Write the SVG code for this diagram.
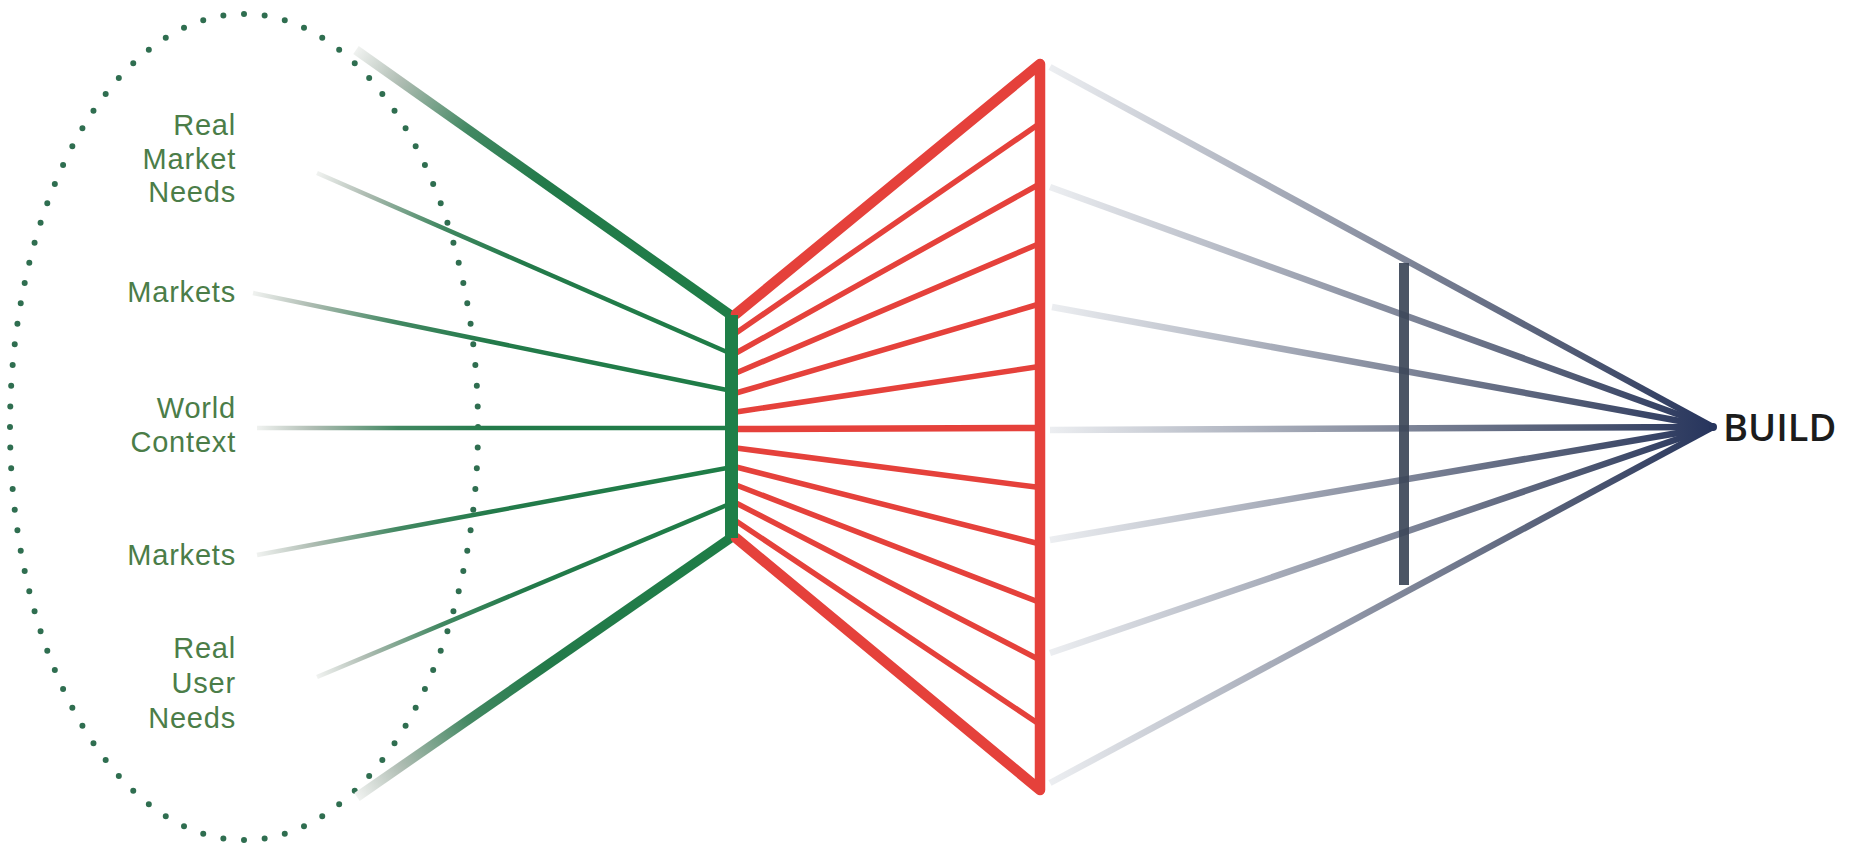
<svg xmlns="http://www.w3.org/2000/svg" xmlns:xlink="http://www.w3.org/1999/xlink" width="1859" height="846" viewBox="0 0 1859 846">
  <style>
    .lbl { font-family: "Liberation Sans", Arial, sans-serif; font-size: 29px; letter-spacing: 0.8px; fill: #4b7d48; text-anchor: end; }
    .build { font-family: "Open Sans", "Liberation Sans", sans-serif; font-size: 38px; font-weight: 600; fill: #1c1c1c; }
    .red { stroke: #e5413b; fill: none; stroke-linecap: round; }
    .gthin { fill: none; stroke-width: 4.5; stroke-linecap: butt; }
    .gthick { fill: none; stroke-width: 9.5; stroke-linecap: butt; }
    .gray { fill: none; stroke: url(#grayGrad); stroke-width: 6.5; stroke-linecap: butt; }
  </style>
  <defs>
    <linearGradient id="greenBase">
      <stop offset="0" stop-color="#f0f2f0"/>
      <stop offset="0.12" stop-color="#aebcb2"/>
      <stop offset="0.3" stop-color="#428862"/>
      <stop offset="0.5" stop-color="#237a4a"/>
      <stop offset="1" stop-color="#1f7d47"/>
    </linearGradient>
    <linearGradient id="g1" href="#greenBase" xlink:href="#greenBase" gradientUnits="userSpaceOnUse" x1="356" y1="50" x2="732" y2="316"/>
    <linearGradient id="g2" href="#greenBase" xlink:href="#greenBase" gradientUnits="userSpaceOnUse" x1="317" y1="173" x2="726" y2="352"/>
    <linearGradient id="g3" href="#greenBase" xlink:href="#greenBase" gradientUnits="userSpaceOnUse" x1="253" y1="293" x2="726" y2="390"/>
    <linearGradient id="g4" href="#greenBase" xlink:href="#greenBase" gradientUnits="userSpaceOnUse" x1="257" y1="428" x2="726" y2="428"/>
    <linearGradient id="g5" href="#greenBase" xlink:href="#greenBase" gradientUnits="userSpaceOnUse" x1="257" y1="555" x2="726" y2="468"/>
    <linearGradient id="g6" href="#greenBase" xlink:href="#greenBase" gradientUnits="userSpaceOnUse" x1="317" y1="677" x2="726" y2="505"/>
    <linearGradient id="g7" href="#greenBase" xlink:href="#greenBase" gradientUnits="userSpaceOnUse" x1="357" y1="797" x2="732" y2="537"/>
    <linearGradient id="grayGrad" gradientUnits="userSpaceOnUse" x1="1050" y1="0" x2="1713" y2="0">
      <stop offset="0" stop-color="#eceef1"/>
      <stop offset="0.2" stop-color="#c3c7d0"/>
      <stop offset="0.55" stop-color="#7c8396"/>
      <stop offset="0.8" stop-color="#4e5872"/>
      <stop offset="1" stop-color="#27355d"/>
    </linearGradient>
  </defs>

  <rect width="1859" height="846" fill="#ffffff"/>

  <g id="context-boundary">
    <ellipse cx="244" cy="427" rx="234" ry="413" fill="none" stroke="#2f6e50" stroke-width="6" stroke-linecap="round" pathLength="100" stroke-dasharray="0 1"/>
  </g>

  <g id="connectors">
    <g id="green-inputs">
      <line class="gthick" x1="356" y1="50" x2="732" y2="316" stroke="url(#g1)"/>
      <line class="gthin" x1="317" y1="173" x2="727" y2="352" stroke="url(#g2)"/>
      <line class="gthin" x1="253" y1="293" x2="727" y2="390" stroke="url(#g3)"/>
      <line class="gthin" x1="257" y1="428" x2="727" y2="428" stroke="url(#g4)" stroke-width="5"/>
      <line class="gthin" x1="257" y1="555" x2="727" y2="468" stroke="url(#g5)"/>
      <line class="gthin" x1="317" y1="677" x2="727" y2="505" stroke="url(#g6)"/>
      <line class="gthick" x1="357" y1="797" x2="732" y2="537" stroke="url(#g7)"/>
    </g>
    <g id="red-fan" class="red">
      <polyline points="736,314 1040,64 1040,790 736,538" stroke-width="10.5" stroke-linejoin="round"/>
      <line x1="736" y1="333" x2="1036" y2="126" stroke-width="5.5"/>
      <line x1="736" y1="353" x2="1036" y2="186" stroke-width="5.5"/>
      <line x1="736" y1="373" x2="1036" y2="245" stroke-width="5.5"/>
      <line x1="736" y1="393" x2="1036" y2="305" stroke-width="5.5"/>
      <line x1="736" y1="412" x2="1036" y2="367" stroke-width="5.5"/>
      <line x1="736" y1="429" x2="1036" y2="428" stroke-width="6.5"/>
      <line x1="736" y1="448" x2="1036" y2="487" stroke-width="5.5"/>
      <line x1="736" y1="467" x2="1036" y2="543" stroke-width="5.5"/>
      <line x1="736" y1="485" x2="1036" y2="601" stroke-width="5.5"/>
      <line x1="736" y1="503" x2="1036" y2="658" stroke-width="5.5"/>
      <line x1="736" y1="521" x2="1036" y2="722" stroke-width="5.5"/>
    </g>
    <g id="gray-outputs">
      <line class="gray" x1="1050" y1="67" x2="1713" y2="427"/>
      <line class="gray" x1="1050" y1="187" x2="1713" y2="427"/>
      <line class="gray" x1="1052" y1="307" x2="1713" y2="427"/>
      <line class="gray" x1="1050" y1="430" x2="1713" y2="427"/>
      <line class="gray" x1="1050" y1="540" x2="1713" y2="427"/>
      <line class="gray" x1="1050" y1="653" x2="1713" y2="427"/>
      <line class="gray" x1="1050" y1="783" x2="1713" y2="427"/>
    </g>
  </g>

  <g id="green-bar">
    <rect x="725" y="315" width="13" height="223" fill="#1f7f48"/>
  </g>

  <g id="filter-bar">
    <line x1="1404" y1="263" x2="1404" y2="585" stroke="#3c4759" stroke-width="10" opacity="0.92"/>
  </g>

  <g id="label-real-market-needs">
    <text class="lbl" x="236" y="135">Real</text>
    <text class="lbl" x="236" y="169">Market</text>
    <text class="lbl" x="236" y="202">Needs</text>
  </g>
  <g id="label-markets-1">
    <text class="lbl" x="236" y="302">Markets</text>
  </g>
  <g id="label-world-context">
    <text class="lbl" x="236" y="418">World</text>
    <text class="lbl" x="236" y="452">Context</text>
  </g>
  <g id="label-markets-2">
    <text class="lbl" x="236" y="565">Markets</text>
  </g>
  <g id="label-real-user-needs">
    <text class="lbl" x="236" y="658">Real</text>
    <text class="lbl" x="236" y="693">User</text>
    <text class="lbl" x="236" y="728">Needs</text>
  </g>

  <g id="build">
    <circle cx="1713" cy="427" r="4" fill="#27355d"/>
    <text class="build" x="1723" y="441">BUILD</text>
  </g>
</svg>
